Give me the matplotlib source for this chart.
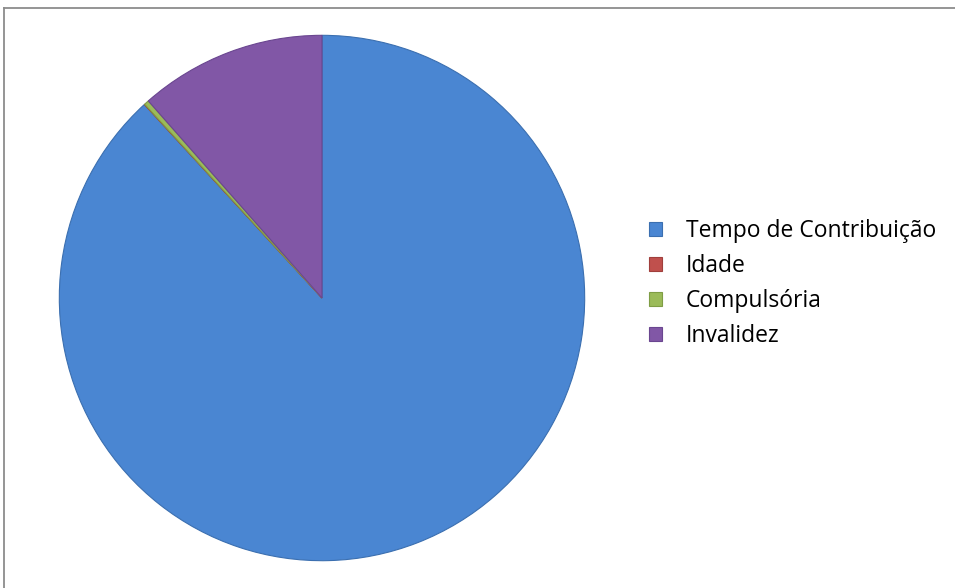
import matplotlib

matplotlib.use("Agg")
import matplotlib.pyplot as plt
from matplotlib.lines import Line2D
from matplotlib.patches import Patch

labels = ["Tempo de Contribuição", "Idade", "Compulsória", "Invalidez"]
values = [88.2, 0.02, 0.3, 11.5]
colors = ["#4a86d2", "#c0504d", "#9bbb59", "#8157a6"]
edge_colors = ["#3b6fb0", "#a03f3c", "#7f9d45", "#6a4690"]

plt.rcParams["font.family"] = ["Open Sans", "DejaVu Sans"]

fig = plt.figure(figsize=(9.55, 5.88), dpi=100)

# chart frame: only top and left edges visible in the crop
fig.add_artist(Line2D([4 / 955, 1.0], [1 - 8 / 588] * 2, transform=fig.transFigure,
                      color="#8c8c8c", lw=1.3))
fig.add_artist(Line2D([4 / 955] * 2, [0.0, 1 - 8 / 588], transform=fig.transFigure,
                      color="#8c8c8c", lw=1.3))

ax = fig.add_axes([58 / 955, 26 / 588, 528 / 955, 528 / 588])
wedges, _ = ax.pie(values, colors=colors, startangle=90, counterclock=False,
                   wedgeprops={"linewidth": 0.8})
for w, ec in zip(wedges, edge_colors):
    w.set_edgecolor(ec)
ax.set_xlim(-1.005, 1.005)
ax.set_ylim(-1.005, 1.005)
ax.set_aspect("equal")
ax.axis("off")

handles = [Patch(facecolor=c, edgecolor=ec, lw=0.8) for c, ec in zip(colors, edge_colors)]
fig.legend(handles, labels, loc="center left", bbox_to_anchor=(0.6575, 0.518),
           bbox_transform=fig.transFigure, frameon=False, fontsize=16.5,
           handlelength=0.57, handleheight=0.57, handletextpad=1.05, labelspacing=0.48)

fig.savefig("out.png", dpi=100)
